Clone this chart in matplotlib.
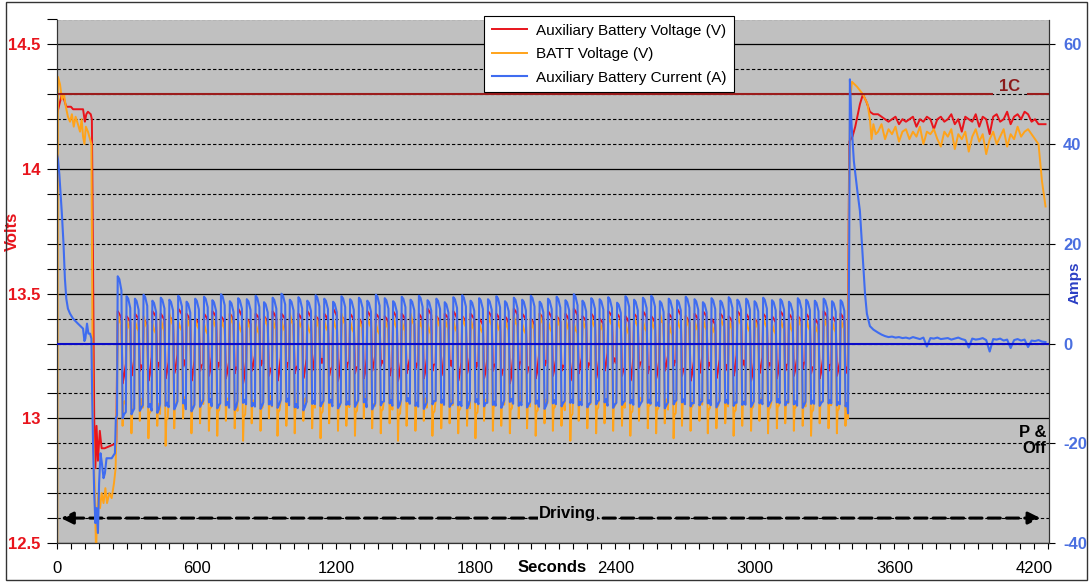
import matplotlib
matplotlib.use('Agg')
import matplotlib.pyplot as plt
from matplotlib.ticker import MultipleLocator
from matplotlib.patches import Rectangle
import numpy as np

plt.rcParams['font.family'] = ['Liberation Sans', 'DejaVu Sans']

# ---- data ----
# key-on section (0 .. ~258 s)
aux_start_t = [0, 8, 21, 30, 40, 60, 69, 100, 112, 120, 126, 133, 145, 150, 155, 160, 165, 170, 176, 184, 192, 205, 230, 255]
aux_start_v = [14.22, 14.25, 14.30, 14.28, 14.25, 14.25, 14.24, 14.24, 14.24, 14.19, 14.22, 14.23, 14.22, 14.20,
               13.60, 13.00, 12.80, 12.97, 12.83, 12.95, 12.88, 12.88, 12.89, 12.90]
batt_start_t = [0, 4, 13, 21, 30, 38, 47, 56, 64, 72, 80, 90, 99, 106, 112, 118, 124, 133, 142, 148, 151, 154, 158,
                163, 168, 172, 178, 185, 192, 200, 208, 215, 225, 235, 245, 252]
batt_start_v = [11.80, 14.37, 14.34, 14.28, 14.30, 14.25, 14.21, 14.19, 14.22, 14.17, 14.21, 14.18, 14.15, 14.20,
                14.13, 14.10, 14.17, 14.15, 14.12, 14.10, 13.60, 13.00, 12.85, 12.70, 12.45, 12.62, 12.70, 12.64,
                12.70, 12.66, 12.72, 12.66, 12.70, 12.68, 12.74, 12.80]
amp_start_t = [0, 4, 10, 21, 28, 34, 40, 47, 56, 69, 90, 112, 118, 122, 129, 135, 142, 148, 151, 155, 160, 165, 170,
               176, 181, 187, 193, 200, 206, 213, 220, 235, 249, 253]
amp_start_v = [38, 37, 34, 26, 20, 13, 9, 7, 6, 5, 4, 3, 0.5, 1, 4, 2, 2, 1, -10, -20, -30, -36, -33, -38, -28, -22,
               -24, -27, -26, -23, -23, -23, -22, -15]

# driving section: one entry per charge/discharge cycle
cycle_start = [258, 296, 332, 369, 407, 443, 480, 518, 554, 591,
               629, 665, 702, 740, 776, 813, 851, 887, 924, 962,
               998, 1035, 1073, 1109, 1146, 1184, 1220, 1257, 1295, 1331,
               1368, 1406, 1442, 1479, 1517, 1553, 1590, 1628, 1664, 1701,
               1739, 1775, 1812, 1850, 1886, 1923, 1961, 1997, 2034, 2072,
               2108, 2145, 2183, 2219, 2256, 2294, 2330, 2367, 2405, 2441,
               2478, 2516, 2552, 2589, 2627, 2663, 2700, 2738, 2774, 2811,
               2849, 2885, 2922, 2960, 2996, 3033, 3071, 3107, 3144, 3182,
               3218, 3255, 3293, 3329, 3366]
amp_hi = [13.5, 9.5, 9.0, 9.8, 8.6, 9.2, 8.8, 9.6, 8.4, 9.0,
          9.4, 8.7, 9.9, 8.5, 9.1, 8.9, 9.6, 8.3, 9.2, 10.0,
          8.8, 9.3, 8.6, 9.7, 9.0, 8.4, 9.5, 8.9, 9.2, 8.6,
          9.8, 9.1, 8.5, 9.4, 8.8, 9.6, 8.7, 9.0, 8.3, 9.3,
          9.7, 8.6, 9.1, 8.9, 9.5, 8.5, 9.2, 8.8, 9.6, 8.4,
          9.0, 9.4, 8.7, 9.9, 8.6, 9.1, 8.9, 9.3, 8.2, 9.5,
          8.8, 9.2, 9.6, 8.5, 9.0, 8.7, 9.4, 8.9, 8.3, 9.1,
          8.6, 9.3, 8.8, 9.0, 8.5, 9.2, 8.7, 8.9, 8.4, 9.1,
          8.8, 8.6, 9.0, 8.5, 8.7]
amp_lo = [-15.0, -14.2, -13.5, -12.8, -13.9, -12.5, -13.2, -12.0, -13.6, -12.7,
          -11.8, -13.0, -12.4, -13.3, -11.9, -12.6, -13.1, -12.2, -12.9, -11.7,
          -12.8, -13.4, -12.1, -12.6, -11.9, -13.0, -12.3, -12.7, -11.8, -13.2,
          -12.4, -12.0, -12.9, -11.6, -12.5, -13.1, -12.2, -11.9, -12.7, -12.4,
          -13.0, -11.8, -12.6, -12.3, -12.9, -11.7, -12.5, -12.8, -12.1, -13.1,
          -12.0, -12.6, -11.9, -12.4, -12.8, -12.2, -11.8, -12.9, -12.3, -12.0,
          -12.7, -11.9, -12.5, -13.0, -12.2, -11.8, -12.6, -12.4, -12.0, -12.8,
          -11.9, -12.5, -12.3, -12.7, -12.0, -12.6, -11.8, -12.4, -12.2, -12.9,
          -12.1, -12.5, -12.0, -12.4, -12.6]
batt_hi = [13.42, 13.40, 13.39, 13.41, 13.38, 13.40, 13.42, 13.39, 13.41, 13.40,
           13.38, 13.41, 13.40, 13.42, 13.39, 13.40, 13.38, 13.41, 13.40, 13.39,
           13.42, 13.40, 13.38, 13.41, 13.39, 13.40, 13.42, 13.39, 13.40, 13.41,
           13.38, 13.40, 13.41, 13.39, 13.42, 13.40, 13.38, 13.41, 13.40, 13.39,
           13.41, 13.40, 13.38, 13.42, 13.39, 13.40, 13.41, 13.38, 13.40, 13.42,
           13.39, 13.41, 13.40, 13.38, 13.40, 13.41, 13.39, 13.42, 13.40, 13.38,
           13.41, 13.39, 13.40, 13.42, 13.38, 13.40, 13.41, 13.39, 13.40, 13.38,
           13.41, 13.40, 13.42, 13.39, 13.40, 13.41, 13.38, 13.40, 13.39, 13.41,
           13.40, 13.38, 13.41, 13.39, 13.40]
batt_lo = [12.97, 12.94, 12.99, 12.92, 12.97, 12.89, 12.96, 13.00, 12.94, 12.98,
           12.95, 12.93, 12.99, 12.96, 12.91, 12.98, 12.95, 13.00, 12.93, 12.97,
           12.94, 12.99, 12.96, 12.92, 12.98, 12.95, 12.97, 12.93, 13.00, 12.96,
           12.94, 12.98, 12.91, 12.97, 12.95, 12.99, 12.93, 12.96, 12.98, 12.94,
           12.97, 12.92, 12.99, 12.95, 12.97, 12.94, 13.00, 12.96, 12.93, 12.98,
           12.95, 12.97, 12.91, 12.99, 12.96, 12.94, 12.98, 12.95, 12.97, 12.93,
           12.99, 12.96, 12.94, 12.98, 12.92, 12.97, 12.95, 12.99, 12.94, 12.96,
           12.98, 12.93, 12.97, 12.95, 12.99, 12.94, 12.96, 12.98, 12.95, 12.97,
           12.93, 12.98, 12.96, 12.94, 12.97]
aux_hi = [13.43, 13.41, 13.42, 13.40, 13.43, 13.42, 13.41, 13.44, 13.42, 13.40,
          13.42, 13.43, 13.41, 13.42, 13.44, 13.40, 13.42, 13.41, 13.43, 13.42,
          13.40, 13.42, 13.43, 13.41, 13.42, 13.44, 13.41, 13.42, 13.40, 13.43,
          13.42, 13.41, 13.43, 13.42, 13.40, 13.42, 13.44, 13.41, 13.42, 13.43,
          13.41, 13.42, 13.40, 13.43, 13.42, 13.41, 13.44, 13.42, 13.40, 13.42,
          13.43, 13.41, 13.42, 13.44, 13.41, 13.42, 13.40, 13.43, 13.42, 13.41,
          13.42, 13.43, 13.41, 13.40, 13.42, 13.44, 13.41, 13.42, 13.43, 13.40,
          13.42, 13.41, 13.43, 13.42, 13.40, 13.42, 13.41, 13.43, 13.42, 13.41,
          13.42, 13.40, 13.43, 13.41, 13.42]
aux_lo = [13.14, 13.17, 13.19, 13.15, 13.20, 13.16, 13.18, 13.21, 13.15, 13.19,
          13.17, 13.20, 13.16, 13.18, 13.14, 13.19, 13.21, 13.17, 13.15, 13.20,
          13.18, 13.16, 13.19, 13.22, 13.17, 13.15, 13.20, 13.18, 13.16, 13.19,
          13.21, 13.17, 13.15, 13.18, 13.20, 13.16, 13.19, 13.17, 13.21, 13.15,
          13.18, 13.20, 13.16, 13.19, 13.17, 13.14, 13.20, 13.18, 13.16, 13.21,
          13.17, 13.19, 13.15, 13.18, 13.20, 13.16, 13.19, 13.22, 13.17, 13.15,
          13.20, 13.18, 13.16, 13.19, 13.21, 13.17, 13.15, 13.18, 13.20, 13.16,
          13.19, 13.17, 13.21, 13.15, 13.18, 13.20, 13.16, 13.19, 13.17, 13.20,
          13.18, 13.16, 13.19, 13.17, 13.18]

# park / recharge section
aux_trans_t = [3400, 3406, 3420, 3432, 3452, 3465, 3480, 3495, 3510]
aux_trans_v = [13.20, 14.11, 14.13, 14.17, 14.26, 14.30, 14.27, 14.23, 14.22]
batt_trans_t = [3400, 3405, 3410, 3418, 3440, 3465, 3485, 3495, 3502, 3510, 3520]
batt_trans_v = [13.00, 13.90, 14.28, 14.35, 14.33, 14.30, 14.26, 14.20, 14.12, 14.18, 14.14]
amp_trans_t = [3401, 3406, 3409, 3416, 3426, 3440, 3452, 3465, 3474, 3482, 3495, 3510]
amp_trans_v = [-14, 20, 53, 44, 36.6, 31, 26.6, 16.6, 10, 6, 3.5, 2.8]

tail_t = [3530, 3545, 3560, 3575, 3590, 3605, 3620, 3635, 3650, 3665,
          3680, 3695, 3710, 3725, 3740, 3755, 3770, 3785, 3800, 3815,
          3830, 3845, 3860, 3875, 3890, 3905, 3920, 3935, 3950, 3965,
          3980, 3995, 4010, 4025, 4040, 4055, 4070, 4085, 4100, 4115,
          4130, 4145, 4160, 4175, 4190, 4205, 4220, 4235, 4250]
aux_tail = [14.22, 14.21, 14.20, 14.19, 14.20, 14.21, 14.18, 14.20, 14.19, 14.20,
            14.21, 14.17, 14.20, 14.19, 14.21, 14.20, 14.16, 14.20, 14.21, 14.19,
            14.20, 14.22, 14.18, 14.20, 14.15, 14.21, 14.20, 14.19, 14.22, 14.17,
            14.21, 14.20, 14.14, 14.21, 14.22, 14.19, 14.20, 14.23, 14.18, 14.21,
            14.22, 14.20, 14.23, 14.22, 14.19, 14.20, 14.18, 14.18, 14.18]
batt_tail = [14.15, 14.18, 14.12, 14.16, 14.14, 14.17, 14.11, 14.15, 14.16, 14.12,
             14.15, 14.13, 14.17, 14.10, 14.15, 14.14, 14.16, 14.12, 14.09, 14.15,
             14.13, 14.16, 14.08, 14.14, 14.12, 14.15, 14.07, 14.13, 14.16, 14.11,
             14.14, 14.06, 14.12, 14.15, 14.10, 14.13, 14.16, 14.09, 14.14, 14.12,
             14.17, 14.13, 14.15, 14.16, 14.14, 14.12, 14.10, 13.95, 13.85]
amp_tail = [2.2, 1.8, 1.5, 1.3, 1.4, 1.2, 1.3, 1.1, 1.2, 1.0,
            1.3, 1.1, 0.9, 1.2, -0.6, 1.1, 1.0, 1.2, 0.9, 1.0,
            1.1, 0.8, 1.0, 1.2, 0.9, 0.7, -0.8, 1.0, 0.8, 0.9,
            1.1, 0.7, -1.6, 0.9, 0.8, 1.0, 0.6, 0.8, -0.9, 0.7,
            0.9, 0.6, 0.8, -0.7, 0.6, 0.5, 0.7, 0.4, 0.3]

one_c_volts = 14.3
volt_ticks = [12.5, 13, 13.5, 14, 14.5]
volt_labels = ['12.5', '13', '13.5', '14', '14.5']
amp_ticks = [-40, -20, 0, 20, 40, 60]
amp_labels = ['-40', '-20', '0', '20', '40', '60']
sec_ticks = [0, 600, 1200, 1800, 2400, 3000, 3600, 4200]
sec_labels = ['0', '600', '1200', '1800', '2400', '3000', '3600', '4200']

RED = '#e8141c'
ORANGE = '#ffa31a'
BLUE = '#3f6cf0'


def driving_wave(hi, lo, shape):
    # each cycle: rise, hold near the top, drop, short bottom
    t, v = [], []
    for s, h, l in zip(cycle_start, hi, lo):
        for dt, f in shape:
            t.append(s + dt)
            v.append(l + f * (h - l))
    return t, v


amp_d_t, amp_d_v = driving_wave(amp_hi, amp_lo, [(0, 0.02), (3, 1.0), (10, 0.98), (19, 0.9), (24, 0.0), (31, 0.03)])
batt_d_t, batt_d_v = driving_wave(batt_hi, batt_lo, [(0, 0.25), (3, 1.0), (12, 0.93), (19, 0.9), (24, 0.0), (27, 0.2), (33, 0.22)])
aux_d_t, aux_d_v = driving_wave(aux_hi, aux_lo, [(0, 0.2), (3, 1.0), (12, 0.95), (19, 0.9), (24, 0.0), (30, 0.1)])

aux_t = np.concatenate([aux_start_t, aux_d_t, aux_trans_t, tail_t])
aux_v = np.concatenate([aux_start_v, aux_d_v, aux_trans_v, aux_tail])
batt_t = np.concatenate([batt_start_t, batt_d_t, batt_trans_t, tail_t])
batt_v = np.concatenate([batt_start_v, batt_d_v, batt_trans_v, batt_tail])
amp_t = np.concatenate([amp_start_t, amp_d_t, amp_trans_t, tail_t])
amp_v = np.concatenate([amp_start_v, amp_d_v, amp_trans_v, amp_tail])

# ---- figure ----
fig = plt.figure(figsize=(10.91, 5.82), dpi=100)
ax = fig.add_axes([57 / 1091, 39 / 582, 992 / 1091, 523.5 / 582])
ax.set_facecolor('#c0c0c0')
ax2 = ax.twinx()

ax.set_xlim(0, 4265)
ax.set_ylim(12.5, 14.6)
ax2.set_ylim(-40, 65)

ax.set_yticks(volt_ticks, volt_labels, fontsize=12, fontweight='bold', color=RED)
ax.yaxis.set_minor_locator(MultipleLocator(0.1))
ax2.set_yticks(amp_ticks, amp_labels, fontsize=12, fontweight='bold', color='#4a6fe0')
ax.set_xticks(sec_ticks, sec_labels, fontsize=12)
ax.xaxis.set_minor_locator(MultipleLocator(60))

ax.tick_params(axis='y', which='both', direction='out', length=7, width=0.8, pad=5)
ax.tick_params(axis='x', which='both', direction='out', length=4, width=0.8, pad=9)
ax2.tick_params(axis='y', direction='out', length=4, width=0.8, pad=6)

ax.set_axisbelow(True)
ax.grid(which='major', axis='y', color='black', lw=0.9)
ax.grid(which='minor', axis='y', color='black', lw=0.8, ls=(0, (3, 2)))

for a in (ax, ax2):
    a.spines['top'].set_visible(False)
    for s in ('left', 'right', 'bottom'):
        a.spines[s].set_color('#333333')
        a.spines[s].set_linewidth(0.8)

l1, = ax.plot(aux_t, aux_v, color=RED, lw=1.4, label='Auxiliary Battery Voltage (V)')
l2, = ax.plot(batt_t, batt_v, color=ORANGE, lw=1.4, label='BATT Voltage (V)')
l3, = ax2.plot(amp_t, amp_v, color=BLUE, lw=1.5, label='Auxiliary Battery Current (A)')
ax2.axhline(0, color='#0a0ac8', lw=1.5, zorder=3)

# 1C reference line with gap for its label
ax.hlines([one_c_volts, one_c_volts], [0, 4170], [4024, 4265], color='#9b1c1c', lw=1.5)
ax.text(4095, 14.33, '1C', color='#8b1a1a', fontsize=12, fontweight='bold', ha='center', va='center')

# driving span arrow
ax.annotate('', xy=(5, 12.6), xytext=(4240, 12.6),
            arrowprops=dict(arrowstyle='<|-|>', color='black', lw=2.2, ls=(0, (4, 2)), mutation_scale=18))
ax.text(2195, 12.62, 'Driving', fontsize=12, fontweight='bold', ha='center', va='center',
        bbox=dict(facecolor='#c0c0c0', edgecolor='none', pad=1))
ax.text(4255, 12.91, 'P &\nOff', fontsize=12, fontweight='bold', ha='right', va='center', linespacing=1.1)

ax.set_ylabel('Volts', color=RED, fontsize=12, fontweight='bold')
ax.yaxis.set_label_coords(-0.0373, 0.596)
ax2.set_ylabel('Amps', color='#2b3fc4', fontsize=11, fontweight='bold')
ax2.yaxis.set_label_coords(1.019, 0.497)
ax.text(0.499, -0.046, 'Seconds', transform=ax.transAxes, ha='center', va='center', fontsize=12, fontweight='bold')

leg = ax2.legend([l1, l2, l3], [l.get_label() for l in (l1, l2, l3)], loc='upper left',
                 bbox_to_anchor=(0.4304, 1.0067), fontsize=11, frameon=True, fancybox=False,
                 framealpha=1, edgecolor='black', handlelength=2.3, handletextpad=0.6,
                 labelspacing=0.62, borderpad=0.5, borderaxespad=0)
leg.get_frame().set_linewidth(0.8)

fig.add_artist(Rectangle((6 / 1091, 2 / 582), 1081 / 1091, 578 / 582, transform=fig.transFigure,
                         fill=False, edgecolor='#333333', lw=1))

fig.savefig('out.png', dpi=100)
